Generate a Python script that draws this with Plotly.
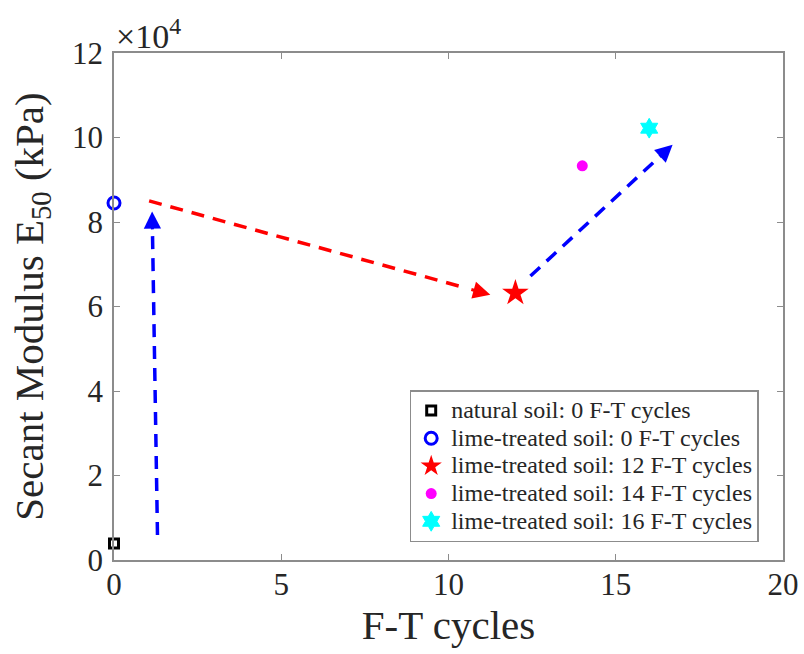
import plotly.graph_objects as go

# Measured secant modulus E50 (kPa) after freeze-thaw cycling
series_names = [
    "natural soil: 0 F-T cycles",
    "lime-treated soil: 0 F-T cycles",
    "lime-treated soil: 12 F-T cycles",
    "lime-treated soil: 14 F-T cycles",
    "lime-treated soil: 16 F-T cycles",
]
ft_cycles = [0, 0, 12, 14, 16]
e50_kpa = [3900, 84500, 63200, 93300, 102200]

# Trend arrows: (x0, y0) -> (x1, y1) in data units, plus colour
arrow_x0 = [1.3, 1.05, 12.45]
arrow_y0 = [5900, 85000, 67200]
arrow_x1 = [1.14, 11.25, 16.7]
arrow_y1 = [82500, 62800, 98300]
arrow_colors = ["#0000ff", "#ff0000", "#0000ff"]

y_ticks = [0, 20000, 40000, 60000, 80000, 100000, 120000]
y_tick_text = ["0", "2", "4", "6", "8", "10", "12"]
x_ticks = [0, 5, 10, 15, 20]

marker_styles = [
    dict(symbol="square-open", size=9, color="black", line=dict(width=3, color="black")),
    dict(symbol="circle-open", size=12, color="#0000ff", line=dict(width=3, color="#0000ff")),
    dict(symbol="star", size=20, color="#ff0000", line=dict(width=0)),
    dict(symbol="circle", size=11, color="#ff00ff", line=dict(width=0)),
    dict(symbol="hexagram", size=15, color="#00ffff", line=dict(width=1, color="#00ffff")),
]

FONT = "Liberation Serif, Times New Roman, serif"
TXT = "#262626"
AX = "#8c8c8c"
LEGEND_TEXT_PX = 24

fig = go.Figure()

# dashed trend lines (shafts), arrowheads added as annotations below
for x0, y0, x1, y1, c in zip(arrow_x0, arrow_y0, arrow_x1, arrow_y1, arrow_colors):
    fig.add_trace(go.Scatter(
        x=[x0, x0 + (x1 - x0) * 0.93], y=[y0, y0 + (y1 - y0) * 0.93],
        mode="lines", line=dict(color=c, width=3.5, dash="13px,9px"),
        showlegend=False, hoverinfo="skip",
    ))

for name, x, y, m in zip(series_names, ft_cycles, e50_kpa, marker_styles):
    fig.add_trace(go.Scatter(
        x=[x], y=[y], mode="markers", marker=m, cliponaxis=False,
        name=f'<span style="font-size:{LEGEND_TEXT_PX}px">{name}</span>',
    ))

for x0, y0, x1, y1, c in zip(arrow_x0, arrow_y0, arrow_x1, arrow_y1, arrow_colors):
    fig.add_annotation(
        x=x1, y=y1, ax=x1 - (x1 - x0) * 0.06, ay=y1 - (y1 - y0) * 0.06,
        xref="x", yref="y", axref="x", ayref="y",
        text="", showarrow=True, arrowhead=2, arrowsize=1.15, arrowwidth=3,
        arrowcolor=c, standoff=0, startstandoff=0,
    )

fig.add_annotation(
    x=0, y=1, xref="paper", yref="paper", xanchor="left", yanchor="bottom",
    text="×10<sup>4</sup>", showarrow=False,
    font=dict(family=FONT, size=34, color=TXT), yshift=-4, xshift=0,
)

axis_common = dict(
    showline=True, linecolor=AX, linewidth=1.5, mirror="ticks",
    ticks="inside", ticklen=6, tickcolor=AX, tickwidth=1.2,
    showgrid=False, zeroline=False, automargin=False,
    tickfont=dict(family=FONT, size=31, color=TXT),
)

fig.update_layout(
    width=804, height=654,
    margin=dict(l=114, r=21, t=53, b=94),
    paper_bgcolor="white", plot_bgcolor="white",
    font=dict(family=FONT, color=TXT),
    xaxis=dict(
        range=[0, 20], tickvals=x_ticks, ticklabelstandoff=-4,
        title=dict(text="F-T cycles", font=dict(family=FONT, size=41, color=TXT), standoff=0),
        **axis_common,
    ),
    yaxis=dict(
        range=[0, 120000], tickvals=y_ticks, ticktext=y_tick_text, ticklabelstandoff=3,
        title=dict(text="Secant Modulus E<sub>50</sub> (kPa)", font=dict(family=FONT, size=41, color=TXT), standoff=16),
        **axis_common,
    ),
    legend=dict(
        x=0.442, y=0.335, xanchor="left", yanchor="top",
        bgcolor="white", bordercolor=AX, borderwidth=1.5,
        font=dict(family=FONT, size=19, color=TXT),
        itemwidth=30, tracegroupgap=0,
    ),
)

fig.write_html("out.html")
